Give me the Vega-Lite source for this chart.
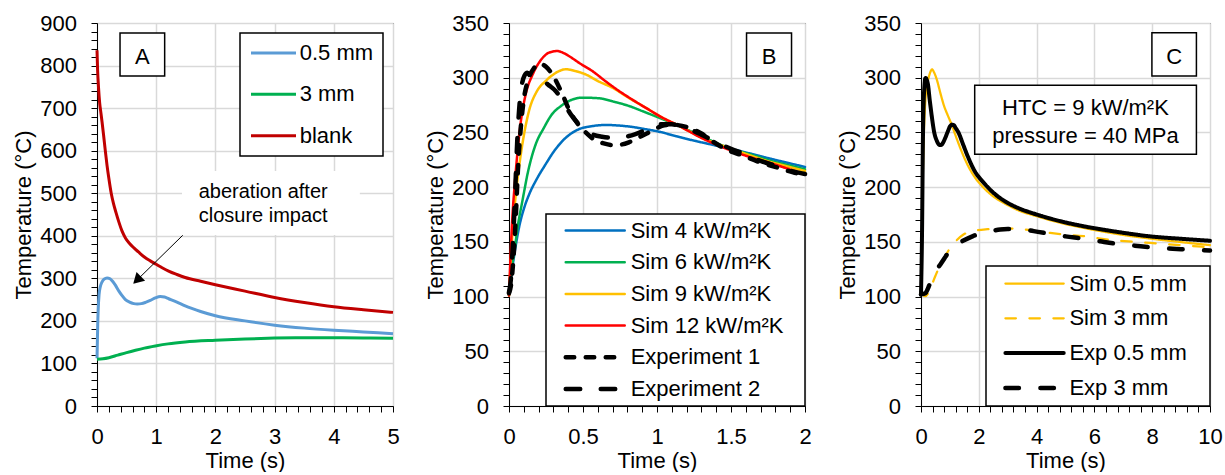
{
  "padding": {"left": 12, "top": 11, "right": 0, "bottom": 0},
  "background": "white",
  "bounds": "flush",
  "spacing": 116,
  "resolve": {"scale": {"color": "independent", "strokeDash": "independent", "strokeWidth": "independent"}, "legend": {"color": "independent", "strokeDash": "independent", "strokeWidth": "independent"}},
  "config": {
    "font": "Liberation Sans",
    "view": {"stroke": "#000000", "strokeWidth": 1},
    "axis": {"domainColor": "#000", "domainWidth": 1, "tickColor": "#000", "tickWidth": 1, "tickSize": 6, "labelColor": "#000", "labelFontSize": 22, "labelPadding": 14.5, "titleColor": "#000", "titleFontSize": 22, "titleFontWeight": "normal", "gridColor": "#d9d9d9", "gridWidth": 1.5, "labelFlush": false, "labelOverlap": false, "tickCount": 200},
    "axisX": {"titlePadding": 3},
    "axisY": {"titlePadding": 4},
    "legend": {"labelFontSize": 22, "labelColor": "#000", "fillColor": "white", "strokeColor": "#000"},
    "text": {"color": "#000"}
  },
  "datasets": {
    "dA": [
      {"s":"blank","t":0,"T":836},{"s":"blank","t":0.01,"T":790},{"s":"blank","t":0.025,"T":750},{"s":"blank","t":0.045,"T":712},{"s":"blank","t":0.065,"T":690},{"s":"blank","t":0.085,"T":668},{"s":"blank","t":0.11,"T":638},{"s":"blank","t":0.14,"T":600},{"s":"blank","t":0.17,"T":565},{"s":"blank","t":0.2,"T":535},{"s":"blank","t":0.24,"T":500},{"s":"blank","t":0.28,"T":475},{"s":"blank","t":0.32,"T":455},{"s":"blank","t":0.37,"T":432},{"s":"blank","t":0.42,"T":412},{"s":"blank","t":0.48,"T":395},{"s":"blank","t":0.55,"T":382},{"s":"blank","t":0.62,"T":372},{"s":"blank","t":0.7,"T":362},{"s":"blank","t":0.8,"T":350},{"s":"blank","t":0.9,"T":341},{"s":"blank","t":1.0,"T":333},{"s":"blank","t":1.1,"T":325},{"s":"blank","t":1.21,"T":317},{"s":"blank","t":1.35,"T":309},{"s":"blank","t":1.49,"T":302},{"s":"blank","t":1.75,"T":293},{"s":"blank","t":2.0,"T":285},{"s":"blank","t":2.5,"T":270},{"s":"blank","t":3.0,"T":255},{"s":"blank","t":3.5,"T":243},{"s":"blank","t":4.0,"T":233},{"s":"blank","t":4.5,"T":226},{"s":"blank","t":5.0,"T":220},
      {"s":"0.5 mm","t":0,"T":112},{"s":"0.5 mm","t":0.006,"T":150},{"s":"0.5 mm","t":0.012,"T":190},{"s":"0.5 mm","t":0.02,"T":225},{"s":"0.5 mm","t":0.035,"T":262},{"s":"0.5 mm","t":0.055,"T":280},{"s":"0.5 mm","t":0.084,"T":291},{"s":"0.5 mm","t":0.12,"T":298},{"s":"0.5 mm","t":0.169,"T":301},{"s":"0.5 mm","t":0.22,"T":299},{"s":"0.5 mm","t":0.27,"T":292},{"s":"0.5 mm","t":0.31,"T":284},{"s":"0.5 mm","t":0.37,"T":270},{"s":"0.5 mm","t":0.42,"T":260},{"s":"0.5 mm","t":0.48,"T":250},{"s":"0.5 mm","t":0.55,"T":244},{"s":"0.5 mm","t":0.62,"T":240.5},{"s":"0.5 mm","t":0.68,"T":239.5},{"s":"0.5 mm","t":0.75,"T":240.5},{"s":"0.5 mm","t":0.82,"T":243.5},{"s":"0.5 mm","t":0.9,"T":248},{"s":"0.5 mm","t":0.985,"T":254},{"s":"0.5 mm","t":1.07,"T":257.5},{"s":"0.5 mm","t":1.14,"T":256},{"s":"0.5 mm","t":1.21,"T":252},{"s":"0.5 mm","t":1.35,"T":244},{"s":"0.5 mm","t":1.49,"T":235},{"s":"0.5 mm","t":1.75,"T":222},{"s":"0.5 mm","t":2.0,"T":212},{"s":"0.5 mm","t":2.5,"T":200},{"s":"0.5 mm","t":3.0,"T":190},{"s":"0.5 mm","t":3.5,"T":183},{"s":"0.5 mm","t":4.0,"T":178},{"s":"0.5 mm","t":4.5,"T":174},{"s":"0.5 mm","t":5.0,"T":170},
      {"s":"3 mm","t":0,"T":110},{"s":"3 mm","t":0.1,"T":111},{"s":"3 mm","t":0.2,"T":113.5},{"s":"3 mm","t":0.35,"T":119.5},{"s":"3 mm","t":0.5,"T":125.5},{"s":"3 mm","t":0.65,"T":131},{"s":"3 mm","t":0.8,"T":136},{"s":"3 mm","t":0.985,"T":141},{"s":"3 mm","t":1.2,"T":146},{"s":"3 mm","t":1.49,"T":150.4},{"s":"3 mm","t":2.0,"T":154.5},{"s":"3 mm","t":2.5,"T":157.5},{"s":"3 mm","t":3.0,"T":159.5},{"s":"3 mm","t":3.5,"T":160.3},{"s":"3 mm","t":4.0,"T":160.5},{"s":"3 mm","t":4.5,"T":160},{"s":"3 mm","t":5.0,"T":159}
    ],
    "rA": [
      {"k":"box","t":0.389,"t2":1.143,"T":775.5,"T2":876.5},
      {"k":"bg","t":1.436,"t2":4.44,"T":402,"T2":552}
    ],
    "tA": [
      {"k":"letter","t":0.766,"T":804.4,"label":"A"},
      {"k":"note","t":1.718,"T":488.8,"label":"aberation after"},
      {"k":"note","t":1.718,"T":432.4,"label":"closure impact"}
    ],
    "aA": [{"t":1.448,"T":401.1,"t2":0.676,"T2":295.9}],
    "dB": [
      {"s":"Sim 4 kW/m²K","t":0,"T":101},{"s":"Sim 4 kW/m²K","t":0.0225,"T":126},{"s":"Sim 4 kW/m²K","t":0.045,"T":146},{"s":"Sim 4 kW/m²K","t":0.0676,"T":163},{"s":"Sim 4 kW/m²K","t":0.1,"T":180},{"s":"Sim 4 kW/m²K","t":0.135,"T":193},{"s":"Sim 4 kW/m²K","t":0.19,"T":208},{"s":"Sim 4 kW/m²K","t":0.248,"T":221},{"s":"Sim 4 kW/m²K","t":0.3,"T":232},{"s":"Sim 4 kW/m²K","t":0.36,"T":242},{"s":"Sim 4 kW/m²K","t":0.42,"T":249},{"s":"Sim 4 kW/m²K","t":0.473,"T":253},{"s":"Sim 4 kW/m²K","t":0.55,"T":255.5},{"s":"Sim 4 kW/m²K","t":0.653,"T":256.8},{"s":"Sim 4 kW/m²K","t":0.74,"T":256.3},{"s":"Sim 4 kW/m²K","t":0.833,"T":255},{"s":"Sim 4 kW/m²K","t":0.92,"T":253},{"s":"Sim 4 kW/m²K","t":1.013,"T":250.7},{"s":"Sim 4 kW/m²K","t":1.13,"T":246.5},{"s":"Sim 4 kW/m²K","t":1.26,"T":242.2},{"s":"Sim 4 kW/m²K","t":1.385,"T":238.4},{"s":"Sim 4 kW/m²K","t":1.51,"T":234.6},{"s":"Sim 4 kW/m²K","t":1.635,"T":230.5},{"s":"Sim 4 kW/m²K","t":1.757,"T":226.3},{"s":"Sim 4 kW/m²K","t":1.88,"T":222.3},{"s":"Sim 4 kW/m²K","t":2.0,"T":218.4},
      {"s":"Sim 6 kW/m²K","t":0,"T":101},{"s":"Sim 6 kW/m²K","t":0.017,"T":125},{"s":"Sim 6 kW/m²K","t":0.034,"T":139},{"s":"Sim 6 kW/m²K","t":0.06,"T":165},{"s":"Sim 6 kW/m²K","t":0.09,"T":187},{"s":"Sim 6 kW/m²K","t":0.13,"T":215},{"s":"Sim 6 kW/m²K","t":0.18,"T":239},{"s":"Sim 6 kW/m²K","t":0.235,"T":254},{"s":"Sim 6 kW/m²K","t":0.29,"T":266.5},{"s":"Sim 6 kW/m²K","t":0.35,"T":274},{"s":"Sim 6 kW/m²K","t":0.405,"T":278.7},{"s":"Sim 6 kW/m²K","t":0.495,"T":281.8},{"s":"Sim 6 kW/m²K","t":0.608,"T":281.2},{"s":"Sim 6 kW/m²K","t":0.71,"T":278},{"s":"Sim 6 kW/m²K","t":0.81,"T":274.2},{"s":"Sim 6 kW/m²K","t":0.91,"T":269},{"s":"Sim 6 kW/m²K","t":1.013,"T":263.5},{"s":"Sim 6 kW/m²K","t":1.15,"T":255.9},{"s":"Sim 6 kW/m²K","t":1.3,"T":246.5},{"s":"Sim 6 kW/m²K","t":1.51,"T":234.6},{"s":"Sim 6 kW/m²K","t":1.64,"T":229.5},{"s":"Sim 6 kW/m²K","t":1.757,"T":224.5},{"s":"Sim 6 kW/m²K","t":1.88,"T":220.3},{"s":"Sim 6 kW/m²K","t":2.0,"T":216.3},
      {"s":"Sim 9 kW/m²K","t":0,"T":101},{"s":"Sim 9 kW/m²K","t":0.0225,"T":157},{"s":"Sim 9 kW/m²K","t":0.045,"T":192},{"s":"Sim 9 kW/m²K","t":0.0676,"T":218},{"s":"Sim 9 kW/m²K","t":0.1,"T":247},{"s":"Sim 9 kW/m²K","t":0.135,"T":269.6},{"s":"Sim 9 kW/m²K","t":0.19,"T":288},{"s":"Sim 9 kW/m²K","t":0.248,"T":297},{"s":"Sim 9 kW/m²K","t":0.3,"T":303},{"s":"Sim 9 kW/m²K","t":0.338,"T":306},{"s":"Sim 9 kW/m²K","t":0.383,"T":307.7},{"s":"Sim 9 kW/m²K","t":0.45,"T":306},{"s":"Sim 9 kW/m²K","t":0.518,"T":303},{"s":"Sim 9 kW/m²K","t":0.6,"T":297},{"s":"Sim 9 kW/m²K","t":0.698,"T":290.9},{"s":"Sim 9 kW/m²K","t":0.81,"T":281.5},{"s":"Sim 9 kW/m²K","t":0.923,"T":272.6},{"s":"Sim 9 kW/m²K","t":1.03,"T":264},{"s":"Sim 9 kW/m²K","t":1.15,"T":255.9},{"s":"Sim 9 kW/m²K","t":1.3,"T":245.5},{"s":"Sim 9 kW/m²K","t":1.51,"T":234.6},{"s":"Sim 9 kW/m²K","t":1.64,"T":228.5},{"s":"Sim 9 kW/m²K","t":1.757,"T":223.3},{"s":"Sim 9 kW/m²K","t":1.88,"T":219},{"s":"Sim 9 kW/m²K","t":2.0,"T":214.8},
      {"s":"Sim 12 kW/m²K","t":0,"T":101},{"s":"Sim 12 kW/m²K","t":0.0225,"T":172},{"s":"Sim 12 kW/m²K","t":0.04,"T":205},{"s":"Sim 12 kW/m²K","t":0.056,"T":230},{"s":"Sim 12 kW/m²K","t":0.08,"T":260},{"s":"Sim 12 kW/m²K","t":0.113,"T":285},{"s":"Sim 12 kW/m²K","t":0.16,"T":303},{"s":"Sim 12 kW/m²K","t":0.203,"T":313.8},{"s":"Sim 12 kW/m²K","t":0.24,"T":320},{"s":"Sim 12 kW/m²K","t":0.27,"T":322.9},{"s":"Sim 12 kW/m²K","t":0.327,"T":324.4},{"s":"Sim 12 kW/m²K","t":0.37,"T":322.5},{"s":"Sim 12 kW/m²K","t":0.405,"T":319.8},{"s":"Sim 12 kW/m²K","t":0.48,"T":313},{"s":"Sim 12 kW/m²K","t":0.563,"T":306.1},{"s":"Sim 12 kW/m²K","t":0.65,"T":297},{"s":"Sim 12 kW/m²K","t":0.743,"T":287.9},{"s":"Sim 12 kW/m²K","t":0.833,"T":280},{"s":"Sim 12 kW/m²K","t":0.923,"T":272.6},{"s":"Sim 12 kW/m²K","t":1.03,"T":264},{"s":"Sim 12 kW/m²K","t":1.15,"T":255.9},{"s":"Sim 12 kW/m²K","t":1.3,"T":245},{"s":"Sim 12 kW/m²K","t":1.51,"T":233},{"s":"Sim 12 kW/m²K","t":1.64,"T":227},{"s":"Sim 12 kW/m²K","t":1.757,"T":222.4},{"s":"Sim 12 kW/m²K","t":1.88,"T":217},{"s":"Sim 12 kW/m²K","t":2.0,"T":211.7},
      {"s":"Experiment 1","t":0,"T":103},{"s":"Experiment 1","t":0.015,"T":112},{"s":"Experiment 1","t":0.03,"T":135},{"s":"Experiment 1","t":0.045,"T":170},{"s":"Experiment 1","t":0.06,"T":215},{"s":"Experiment 1","t":0.08,"T":255},{"s":"Experiment 1","t":0.1,"T":280},{"s":"Experiment 1","t":0.13,"T":298},{"s":"Experiment 1","t":0.17,"T":309},{"s":"Experiment 1","t":0.205,"T":313},{"s":"Experiment 1","t":0.25,"T":310},{"s":"Experiment 1","t":0.293,"T":303},{"s":"Experiment 1","t":0.35,"T":288},{"s":"Experiment 1","t":0.416,"T":268},{"s":"Experiment 1","t":0.47,"T":257},{"s":"Experiment 1","t":0.518,"T":250},{"s":"Experiment 1","t":0.58,"T":243},{"s":"Experiment 1","t":0.64,"T":240},{"s":"Experiment 1","t":0.7,"T":238.5},{"s":"Experiment 1","t":0.76,"T":239},{"s":"Experiment 1","t":0.81,"T":241},{"s":"Experiment 1","t":0.87,"T":245},{"s":"Experiment 1","t":0.93,"T":249},{"s":"Experiment 1","t":1.0,"T":254},{"s":"Experiment 1","t":1.05,"T":256.5},{"s":"Experiment 1","t":1.1,"T":257},{"s":"Experiment 1","t":1.2,"T":255},{"s":"Experiment 1","t":1.3,"T":249},{"s":"Experiment 1","t":1.374,"T":242},{"s":"Experiment 1","t":1.475,"T":234},{"s":"Experiment 1","t":1.577,"T":229},{"s":"Experiment 1","t":1.69,"T":223},{"s":"Experiment 1","t":1.81,"T":218},{"s":"Experiment 1","t":1.92,"T":213.5},{"s":"Experiment 1","t":2.0,"T":211},
      {"s":"Experiment 2","t":0,"T":104},{"s":"Experiment 2","t":0.012,"T":115},{"s":"Experiment 2","t":0.025,"T":145},{"s":"Experiment 2","t":0.04,"T":190},{"s":"Experiment 2","t":0.055,"T":240},{"s":"Experiment 2","t":0.068,"T":270},{"s":"Experiment 2","t":0.085,"T":292},{"s":"Experiment 2","t":0.105,"T":302},{"s":"Experiment 2","t":0.124,"T":304.5},{"s":"Experiment 2","t":0.146,"T":301},{"s":"Experiment 2","t":0.18,"T":299},{"s":"Experiment 2","t":0.225,"T":297.6},{"s":"Experiment 2","t":0.27,"T":293},{"s":"Experiment 2","t":0.315,"T":287.9},{"s":"Experiment 2","t":0.37,"T":277},{"s":"Experiment 2","t":0.42,"T":266},{"s":"Experiment 2","t":0.473,"T":257.4},{"s":"Experiment 2","t":0.52,"T":252},{"s":"Experiment 2","t":0.563,"T":248.3},{"s":"Experiment 2","t":0.63,"T":246},{"s":"Experiment 2","t":0.698,"T":245.2},{"s":"Experiment 2","t":0.81,"T":246.7},{"s":"Experiment 2","t":0.9,"T":251},{"s":"Experiment 2","t":0.968,"T":255.9},{"s":"Experiment 2","t":1.03,"T":257.5},{"s":"Experiment 2","t":1.1,"T":257.4},{"s":"Experiment 2","t":1.2,"T":254},{"s":"Experiment 2","t":1.3,"T":248},{"s":"Experiment 2","t":1.4,"T":241},{"s":"Experiment 2","t":1.5,"T":235},{"s":"Experiment 2","t":1.6,"T":230},{"s":"Experiment 2","t":1.7,"T":224},{"s":"Experiment 2","t":1.8,"T":219.5},{"s":"Experiment 2","t":1.9,"T":215},{"s":"Experiment 2","t":2.0,"T":212}
    ],
    "rB": [{"k":"box","t":1.605,"t2":1.909,"T":301.6,"T2":340.9}],
    "tB": [{"k":"letter","t":1.757,"T":312.8,"label":"B"}],
    "dC": [
      {"s":"Sim 0.5 mm","t":0,"T":105},{"s":"Sim 0.5 mm","t":0.035,"T":160},{"s":"Sim 0.5 mm","t":0.069,"T":217.7},{"s":"Sim 0.5 mm","t":0.1,"T":250},{"s":"Sim 0.5 mm","t":0.15,"T":278.7},{"s":"Sim 0.5 mm","t":0.2,"T":292},{"s":"Sim 0.5 mm","t":0.265,"T":300},{"s":"Sim 0.5 mm","t":0.32,"T":305},{"s":"Sim 0.5 mm","t":0.38,"T":307.6},{"s":"Sim 0.5 mm","t":0.45,"T":305},{"s":"Sim 0.5 mm","t":0.55,"T":298},{"s":"Sim 0.5 mm","t":0.67,"T":286},{"s":"Sim 0.5 mm","t":0.8,"T":274},{"s":"Sim 0.5 mm","t":0.92,"T":266},{"s":"Sim 0.5 mm","t":1.04,"T":258.5},{"s":"Sim 0.5 mm","t":1.24,"T":244},{"s":"Sim 0.5 mm","t":1.4,"T":233},{"s":"Sim 0.5 mm","t":1.59,"T":221.5},{"s":"Sim 0.5 mm","t":1.85,"T":209.5},{"s":"Sim 0.5 mm","t":2.17,"T":199.4},{"s":"Sim 0.5 mm","t":2.5,"T":191.5},{"s":"Sim 0.5 mm","t":2.86,"T":185.7},{"s":"Sim 0.5 mm","t":3.4,"T":178.5},{"s":"Sim 0.5 mm","t":4.0,"T":173.5},{"s":"Sim 0.5 mm","t":4.8,"T":167.5},{"s":"Sim 0.5 mm","t":5.62,"T":162.8},{"s":"Sim 0.5 mm","t":6.5,"T":158.5},{"s":"Sim 0.5 mm","t":7.2,"T":155.5},{"s":"Sim 0.5 mm","t":7.93,"T":153},{"s":"Sim 0.5 mm","t":9.0,"T":149.8},{"s":"Sim 0.5 mm","t":10,"T":147},
      {"s":"Sim 3 mm","t":0,"T":105},{"s":"Sim 3 mm","t":0.07,"T":101.5},{"s":"Sim 3 mm","t":0.15,"T":100.3},{"s":"Sim 3 mm","t":0.25,"T":103},{"s":"Sim 3 mm","t":0.38,"T":111},{"s":"Sim 3 mm","t":0.5,"T":119},{"s":"Sim 3 mm","t":0.67,"T":129.3},{"s":"Sim 3 mm","t":0.85,"T":137.5},{"s":"Sim 3 mm","t":1.01,"T":144.5},{"s":"Sim 3 mm","t":1.2,"T":150.5},{"s":"Sim 3 mm","t":1.47,"T":156.7},{"s":"Sim 3 mm","t":1.7,"T":159.3},{"s":"Sim 3 mm","t":1.94,"T":160.6},{"s":"Sim 3 mm","t":2.3,"T":161.6},{"s":"Sim 3 mm","t":2.63,"T":162.2},{"s":"Sim 3 mm","t":3.0,"T":162.3},{"s":"Sim 3 mm","t":3.32,"T":161.9},{"s":"Sim 3 mm","t":3.9,"T":160.2},{"s":"Sim 3 mm","t":4.47,"T":158.2},{"s":"Sim 3 mm","t":5.0,"T":156.6},{"s":"Sim 3 mm","t":5.62,"T":155.2},{"s":"Sim 3 mm","t":6.2,"T":153},{"s":"Sim 3 mm","t":6.77,"T":151.2},{"s":"Sim 3 mm","t":7.4,"T":150},{"s":"Sim 3 mm","t":7.93,"T":149},{"s":"Sim 3 mm","t":9.0,"T":147},{"s":"Sim 3 mm","t":10,"T":145},
      {"s":"Exp 0.5 mm","t":0,"T":102},{"s":"Exp 0.5 mm","t":0.035,"T":157},{"s":"Exp 0.5 mm","t":0.069,"T":248},{"s":"Exp 0.5 mm","t":0.095,"T":280},{"s":"Exp 0.5 mm","t":0.115,"T":291},{"s":"Exp 0.5 mm","t":0.15,"T":299.5},{"s":"Exp 0.5 mm","t":0.17,"T":299.6},{"s":"Exp 0.5 mm","t":0.2,"T":298},{"s":"Exp 0.5 mm","t":0.24,"T":294},{"s":"Exp 0.5 mm","t":0.3,"T":280},{"s":"Exp 0.5 mm","t":0.38,"T":263.4},{"s":"Exp 0.5 mm","t":0.45,"T":251},{"s":"Exp 0.5 mm","t":0.553,"T":242},{"s":"Exp 0.5 mm","t":0.63,"T":238.8},{"s":"Exp 0.5 mm","t":0.69,"T":238.4},{"s":"Exp 0.5 mm","t":0.76,"T":240.5},{"s":"Exp 0.5 mm","t":0.84,"T":245},{"s":"Exp 0.5 mm","t":0.93,"T":251},{"s":"Exp 0.5 mm","t":1.01,"T":255.8},{"s":"Exp 0.5 mm","t":1.07,"T":257},{"s":"Exp 0.5 mm","t":1.13,"T":256.7},{"s":"Exp 0.5 mm","t":1.2,"T":254},{"s":"Exp 0.5 mm","t":1.3,"T":249.7},{"s":"Exp 0.5 mm","t":1.45,"T":239.5},{"s":"Exp 0.5 mm","t":1.59,"T":229.9},{"s":"Exp 0.5 mm","t":1.85,"T":215},{"s":"Exp 0.5 mm","t":2.17,"T":204},{"s":"Exp 0.5 mm","t":2.5,"T":195},{"s":"Exp 0.5 mm","t":2.86,"T":187.8},{"s":"Exp 0.5 mm","t":3.4,"T":180.5},{"s":"Exp 0.5 mm","t":4.0,"T":175},{"s":"Exp 0.5 mm","t":4.8,"T":169},{"s":"Exp 0.5 mm","t":5.62,"T":164.3},{"s":"Exp 0.5 mm","t":6.5,"T":160.3},{"s":"Exp 0.5 mm","t":7.2,"T":157.5},{"s":"Exp 0.5 mm","t":7.93,"T":155},{"s":"Exp 0.5 mm","t":9.0,"T":152.8},{"s":"Exp 0.5 mm","t":10,"T":151},
      {"s":"Exp 3 mm","t":0,"T":102},{"s":"Exp 3 mm","t":0.15,"T":103},{"s":"Exp 3 mm","t":0.25,"T":108},{"s":"Exp 3 mm","t":0.38,"T":117},{"s":"Exp 3 mm","t":0.5,"T":123},{"s":"Exp 3 mm","t":0.67,"T":129.3},{"s":"Exp 3 mm","t":0.85,"T":136.5},{"s":"Exp 3 mm","t":1.01,"T":143},{"s":"Exp 3 mm","t":1.2,"T":147},{"s":"Exp 3 mm","t":1.47,"T":151.2},{"s":"Exp 3 mm","t":1.8,"T":155.3},{"s":"Exp 3 mm","t":2.17,"T":158.2},{"s":"Exp 3 mm","t":2.5,"T":160.3},{"s":"Exp 3 mm","t":2.74,"T":161.3},{"s":"Exp 3 mm","t":3.0,"T":161.8},{"s":"Exp 3 mm","t":3.32,"T":161.9},{"s":"Exp 3 mm","t":3.9,"T":159.8},{"s":"Exp 3 mm","t":4.47,"T":157.3},{"s":"Exp 3 mm","t":5.0,"T":155},{"s":"Exp 3 mm","t":5.62,"T":153},{"s":"Exp 3 mm","t":6.2,"T":150.5},{"s":"Exp 3 mm","t":6.77,"T":148.2},{"s":"Exp 3 mm","t":7.4,"T":146.5},{"s":"Exp 3 mm","t":7.93,"T":145},{"s":"Exp 3 mm","t":9.0,"T":143.3},{"s":"Exp 3 mm","t":10,"T":142}
    ],
    "rC": [
      {"k":"box","t":7.99,"t2":9.53,"T":301.6,"T2":341.2},
      {"k":"box","t":1.858,"t2":9.53,"T":230.0,"T2":293.1}
    ],
    "tC": [
      {"k":"letter","t":8.76,"T":312.8,"label":"C"},
      {"k":"info","t":5.69,"T":265.9,"label":"HTC = 9 kW/m²K"},
      {"k":"info","t":5.69,"T":240.6,"label":"pressure = 40 MPa"}
    ]
  },
  "hconcat": [
    {
      "width": 296, "height": 383,
      "layer": [
        {
          "data": {"name": "dA"},
          "mark": {"type": "line", "interpolate": "monotone", "strokeWidth": 3},
          "encoding": {
            "x": {"field": "t", "type": "quantitative", "title": "Time (s)",
              "scale": {"domain": [0, 5], "nice": false, "zero": false},
              "axis": {"values": [0,0.2,0.4,0.6,0.8,1,1.2,1.4,1.6,1.8,2,2.2,2.4,2.6,2.8,3,3.2,3.4,3.6,3.8,4,4.2,4.4,4.6,4.8,5], "tickCount": 200, "labelOverlap": false,
                "labelExpr": "datum.value % 1 === 0 ? format(datum.value, '~g') : ''",
                "gridOpacity": {"condition": {"test": "datum.value % 1 === 0", "value": 1}, "value": 0}}},
            "y": {"field": "T", "type": "quantitative", "title": "Temperature (°C)",
              "scale": {"domain": [0, 900], "nice": false, "zero": false},
              "axis": {"values": [0,20,40,60,80,100,120,140,160,180,200,220,240,260,280,300,320,340,360,380,400,420,440,460,480,500,520,540,560,580,600,620,640,660,680,700,720,740,760,780,800,820,840,860,880,900], "tickCount": 200, "labelOverlap": false,
                "labelExpr": "datum.value % 100 === 0 ? format(datum.value, '~g') : ''",
                "gridOpacity": {"condition": {"test": "datum.value % 100 === 0", "value": 1}, "value": 0}}},
            "color": {"field": "s", "type": "nominal",
              "scale": {"domain": ["0.5 mm", "3 mm", "blank"], "range": ["#5B9BD5", "#00B050", "#C00000"]},
              "legend": {"title": null, "orient": "top-right", "offset": 10, "padding": 9,
                "symbolType": "M-1,0H4", "symbolSize": 324, "symbolStrokeWidth": 3, "labelOffset": 28.7, "rowPadding": 19.35,
                "labelFontSize": 22, "fillColor": "white", "strokeColor": "black",
                "encode": {"legend": {"update": {"strokeWidth": {"value": 1.5}}}}}}
          }
        },
        {
          "data": {"name": "rA"},
          "transform": [{"filter": "datum.k === 'bg'"}],
          "mark": {"type": "rect", "fill": "white"},
          "encoding": {
            "x": {"field": "t", "type": "quantitative", "title": "Time (s)"}, "x2": {"field": "t2"},
            "y": {"field": "T", "type": "quantitative", "title": "Temperature (°C)"}, "y2": {"field": "T2"}
          }
        },
        {
          "data": {"name": "rA"},
          "transform": [{"filter": "datum.k === 'box'"}],
          "mark": {"type": "rect", "fill": "white", "stroke": "black", "strokeWidth": 1.5},
          "encoding": {
            "x": {"field": "t", "type": "quantitative", "title": "Time (s)"}, "x2": {"field": "t2"},
            "y": {"field": "T", "type": "quantitative", "title": "Temperature (°C)"}, "y2": {"field": "T2"}
          }
        },
        {
          "data": {"name": "tA"},
          "transform": [{"filter": "datum.k === 'letter'"}],
          "mark": {"type": "text", "fontSize": 22, "align": "center", "baseline": "alphabetic"},
          "encoding": {
            "x": {"field": "t", "type": "quantitative", "title": "Time (s)"},
            "y": {"field": "T", "type": "quantitative", "title": "Temperature (°C)"},
            "text": {"field": "label"}
          }
        },
        {
          "data": {"name": "tA"},
          "transform": [{"filter": "datum.k === 'note'"}],
          "mark": {"type": "text", "fontSize": 20, "align": "left", "baseline": "alphabetic"},
          "encoding": {
            "x": {"field": "t", "type": "quantitative", "title": "Time (s)"},
            "y": {"field": "T", "type": "quantitative", "title": "Temperature (°C)"},
            "text": {"field": "label"}
          }
        },
        {
          "data": {"name": "aA"},
          "mark": {"type": "rule", "color": "black", "strokeWidth": 1},
          "encoding": {
            "x": {"field": "t", "type": "quantitative", "title": "Time (s)"}, "x2": {"field": "t2"},
            "y": {"field": "T", "type": "quantitative", "title": "Temperature (°C)"}, "y2": {"field": "T2"}
          }
        },
        {
          "data": {"name": "aA"},
          "mark": {"type": "point", "shape": "triangle-up", "filled": true, "color": "black", "size": 150, "angle": 225.6, "opacity": 1},
          "encoding": {
            "x": {"field": "t2", "type": "quantitative", "title": "Time (s)"},
            "y": {"field": "T2", "type": "quantitative", "title": "Temperature (°C)"}
          }
        }
      ]
    },
    {
      "width": 296, "height": 383,
      "layer": [
        {
          "data": {"name": "dB"},
          "mark": {"type": "line", "interpolate": "monotone", "strokeCap": "round"},
          "encoding": {
            "x": {"field": "t", "type": "quantitative", "title": "Time (s)",
              "scale": {"domain": [0, 2], "nice": false, "zero": false},
              "axis": {"values": [0,0.1,0.2,0.3,0.4,0.5,0.6,0.7,0.8,0.9,1,1.1,1.2,1.3,1.4,1.5,1.6,1.7,1.8,1.9,2], "tickCount": 200, "labelOverlap": false,
                "labelExpr": "round(datum.value*10) % 5 === 0 ? format(datum.value, '~g') : ''",
                "gridOpacity": {"condition": {"test": "round(datum.value*10) % 5 === 0", "value": 1}, "value": 0}}},
            "y": {"field": "T", "type": "quantitative", "title": "Temperature (°C)",
              "scale": {"domain": [0, 350], "nice": false, "zero": false},
              "axis": {"values": [0,10,20,30,40,50,60,70,80,90,100,110,120,130,140,150,160,170,180,190,200,210,220,230,240,250,260,270,280,290,300,310,320,330,340,350], "tickCount": 200, "labelOverlap": false,
                "labelExpr": "datum.value % 50 === 0 ? format(datum.value, '~g') : ''",
                "gridOpacity": {"condition": {"test": "datum.value % 50 === 0", "value": 1}, "value": 0}}},
            "color": {"field": "s", "type": "nominal",
              "scale": {"domain": ["Sim 4 kW/m²K", "Sim 6 kW/m²K", "Sim 9 kW/m²K", "Sim 12 kW/m²K", "Experiment 1", "Experiment 2"], "range": ["#0070C0", "#00B050", "#FFC000", "#FF0000", "#000000", "#000000"]},
              "legend": {"title": null, "orient": "bottom-right", "offset": 0, "padding": 5.5,
                "symbolType": "M-1,0H7", "symbolSize": 217.6, "symbolOffset": 10.6, "labelOffset": 46.6, "rowPadding": 9.7,
                "labelFontSize": 22, "labelLimit": 300, "fillColor": "white", "strokeColor": "black", "labelExpr": "datum.label + '\u2800'",
                "encode": {"legend": {"update": {"strokeWidth": {"value": 1.5}}}, "symbols": {"update": {"strokeCap": {"value": "round"}}}}}},
            "strokeDash": {"field": "s", "type": "nominal",
              "scale": {"domain": ["Sim 4 kW/m²K", "Sim 6 kW/m²K", "Sim 9 kW/m²K", "Sim 12 kW/m²K", "Experiment 1", "Experiment 2"], "range": [[1,0],[1,0],[1,0],[1,0],[8.5,11.5],[14.5,20.5]]}},
            "strokeWidth": {"field": "s", "type": "nominal",
              "scale": {"type": "ordinal", "domain": ["Sim 4 kW/m²K", "Sim 6 kW/m²K", "Sim 9 kW/m²K", "Sim 12 kW/m²K", "Experiment 1", "Experiment 2"], "range": [2.5,2.5,2.5,2.5,4.5,4.5]}}
          }
        },
        {
          "data": {"name": "rB"},
          "mark": {"type": "rect", "fill": "white", "stroke": "black", "strokeWidth": 1.5},
          "encoding": {
            "x": {"field": "t", "type": "quantitative", "title": "Time (s)"}, "x2": {"field": "t2"},
            "y": {"field": "T", "type": "quantitative", "title": "Temperature (°C)"}, "y2": {"field": "T2"}
          }
        },
        {
          "data": {"name": "tB"},
          "mark": {"type": "text", "fontSize": 22, "align": "center", "baseline": "alphabetic"},
          "encoding": {
            "x": {"field": "t", "type": "quantitative", "title": "Time (s)"},
            "y": {"field": "T", "type": "quantitative", "title": "Temperature (°C)"},
            "text": {"field": "label"}
          }
        }
      ]
    },
    {
      "width": 289, "height": 383,
      "layer": [
        {
          "data": {"name": "rC"},
          "mark": {"type": "rect", "fill": "white", "stroke": "black", "strokeWidth": 1.5},
          "encoding": {
            "x": {"field": "t", "type": "quantitative", "title": "Time (s)"}, "x2": {"field": "t2"},
            "y": {"field": "T", "type": "quantitative", "title": "Temperature (°C)"}, "y2": {"field": "T2"}
          }
        },
        {
          "data": {"name": "dC"},
          "mark": {"type": "line", "interpolate": "monotone", "strokeCap": "round"},
          "encoding": {
            "x": {"field": "t", "type": "quantitative", "title": "Time (s)",
              "scale": {"domain": [0, 10], "nice": false, "zero": false},
              "axis": {"values": [0,0.4,0.8,1.2,1.6,2,2.4,2.8,3.2,3.6,4,4.4,4.8,5.2,5.6,6,6.4,6.8,7.2,7.6,8,8.4,8.8,9.2,9.6,10], "tickCount": 200, "labelOverlap": false,
                "labelExpr": "round(datum.value*10) % 20 === 0 ? format(datum.value, '~g') : ''",
                "gridOpacity": {"condition": {"test": "round(datum.value*10) % 20 === 0", "value": 1}, "value": 0}}},
            "y": {"field": "T", "type": "quantitative", "title": "Temperature (°C)",
              "scale": {"domain": [0, 350], "nice": false, "zero": false},
              "axis": {"values": [0,10,20,30,40,50,60,70,80,90,100,110,120,130,140,150,160,170,180,190,200,210,220,230,240,250,260,270,280,290,300,310,320,330,340,350], "tickCount": 200, "labelOverlap": false,
                "labelExpr": "datum.value % 50 === 0 ? format(datum.value, '~g') : ''",
                "gridOpacity": {"condition": {"test": "datum.value % 50 === 0", "value": 1}, "value": 0}}},
            "color": {"field": "s", "type": "nominal",
              "scale": {"domain": ["Sim 0.5 mm", "Sim 3 mm", "Exp 0.5 mm", "Exp 3 mm"], "range": ["#FFC000", "#FFC000", "#000000", "#000000"]},
              "legend": {"title": null, "orient": "bottom-right", "offset": 0, "padding": 6.5,
                "symbolType": "M-1,0H7", "symbolSize": 212.6, "symbolOffset": 9.2, "labelOffset": 45.7, "rowPadding": 12.8,
                "labelFontSize": 22, "labelLimit": 300, "fillColor": "white", "strokeColor": "black", "labelExpr": "datum.label + '\u2800'",
                "encode": {"legend": {"update": {"strokeWidth": {"value": 1.5}}}, "symbols": {"update": {"strokeCap": {"value": "round"}}}}}},
            "strokeDash": {"field": "s", "type": "nominal",
              "scale": {"domain": ["Sim 0.5 mm", "Sim 3 mm", "Exp 0.5 mm", "Exp 3 mm"], "range": [[1,0],[10.5,13.5],[1,0],[13.5,21.5]]}},
            "strokeWidth": {"field": "s", "type": "nominal",
              "scale": {"type": "ordinal", "domain": ["Sim 0.5 mm", "Sim 3 mm", "Exp 0.5 mm", "Exp 3 mm"], "range": [2.25,2.25,4,4.5]}}
          }
        },
        {
          "data": {"name": "tC"},
          "mark": {"type": "text", "fontSize": 22, "align": "center", "baseline": "alphabetic"},
          "encoding": {
            "x": {"field": "t", "type": "quantitative", "title": "Time (s)"},
            "y": {"field": "T", "type": "quantitative", "title": "Temperature (°C)"},
            "text": {"field": "label"}
          }
        }
      ]
    }
  ]
}
